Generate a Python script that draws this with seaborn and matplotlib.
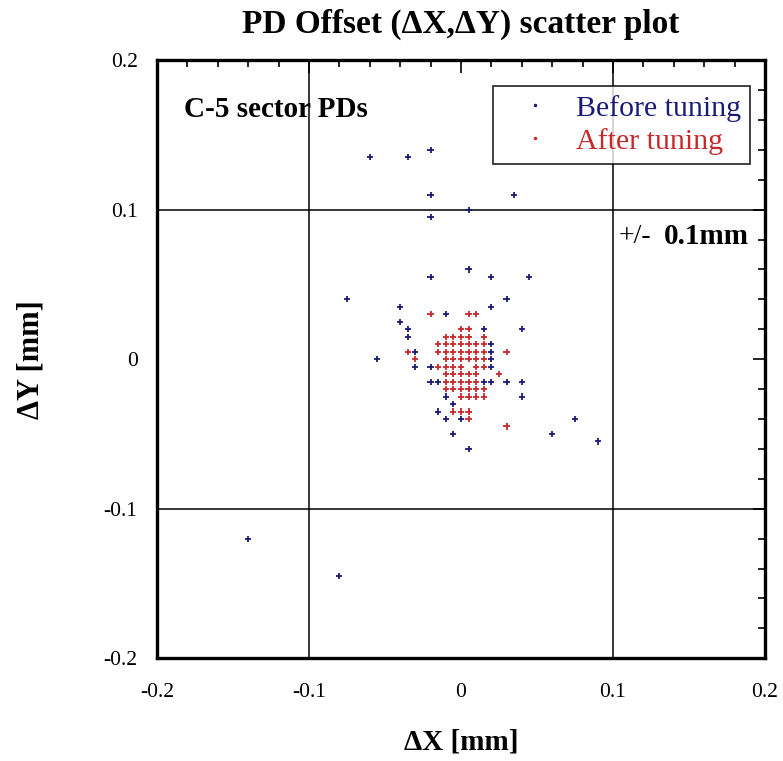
import matplotlib
matplotlib.use("Agg")
import matplotlib.pyplot as plt
import matplotlib.ticker as mticker
from matplotlib.lines import Line2D
import pandas as pd
import seaborn as sns

# PD offsets before tuning (mm)
before_x = [-0.14, -0.08, -0.06, -0.035, -0.02, -0.02, -0.02, 0.005, 0.035,
            -0.02, 0.005, 0.02, 0.045, -0.075, -0.04, 0.02, 0.03, -0.04,
            -0.035, -0.035, 0.04, 0.015, -0.03, -0.055, -0.03, 0.02, 0.02,
            0.02, 0.02, -0.01, 0.04, 0.03, 0.02, 0.04, -0.01, -0.005, -0.015,
            -0.01, 0.0, -0.005, 0.06, 0.005, 0.075, 0.09, -0.02, -0.015,
            -0.02, 0.015]
before_y = [-0.12, -0.145, 0.135, 0.135, 0.14, 0.11, 0.095, 0.1, 0.11,
            0.055, 0.06, 0.055, 0.055, 0.04, 0.035, 0.035, 0.04, 0.025,
            0.02, 0.015, 0.02, 0.02, 0.005, 0.0, -0.005, 0.01, 0.005,
            0.0, -0.005, 0.03, -0.015, -0.015, -0.015, -0.025, -0.025, -0.03, -0.035,
            -0.04, -0.04, -0.05, -0.05, -0.06, -0.04, -0.055, -0.015, -0.015,
            -0.005, -0.015]

# PD offsets after tuning (mm)
after_x = [-0.02, 0.005, 0.01,
           0.0, 0.005,
           -0.01, -0.005, 0.0, 0.005, 0.015,
           -0.015, -0.01, -0.005, 0.0, 0.005, 0.01, 0.015,
           -0.035, -0.015, -0.01, -0.005, 0.0, 0.005, 0.01, 0.015, 0.03,
           -0.03, -0.01, -0.005, 0.0, 0.005, 0.01, 0.015,
           -0.015, -0.01, -0.005, 0.0, 0.01, 0.015,
           -0.01, -0.005, 0.0, 0.005, 0.01, 0.025,
           -0.01, -0.005, 0.0, 0.005, 0.01,
           -0.01, -0.005, 0.0, 0.005, 0.01, 0.015,
           0.0, 0.005, 0.01, 0.015,
           -0.005, 0.0, 0.005,
           0.005, 0.03]
after_y = [0.03, 0.03, 0.03,
           0.02, 0.02,
           0.015, 0.015, 0.015, 0.015, 0.015,
           0.01, 0.01, 0.01, 0.01, 0.01, 0.01, 0.01,
           0.005, 0.005, 0.005, 0.005, 0.005, 0.005, 0.005, 0.005, 0.005,
           0.0, 0.0, 0.0, 0.0, 0.0, 0.0, 0.0,
           -0.005, -0.005, -0.005, -0.005, -0.005, -0.005,
           -0.01, -0.01, -0.01, -0.01, -0.01, -0.01,
           -0.015, -0.015, -0.015, -0.015, -0.015,
           -0.02, -0.02, -0.02, -0.02, -0.02, -0.02,
           -0.025, -0.025, -0.025, -0.025,
           -0.035, -0.035, -0.035,
           -0.04, -0.045]

limit_lines = [-0.1, 0.1]
series_labels = ["Before tuning", "After tuning"]
series_colors = ["#1a1a78", "#c8282a"]

df = pd.DataFrame({
    "dx": before_x + after_x,
    "dy": before_y + after_y,
    "state": [series_labels[0]] * len(before_x) + [series_labels[1]] * len(after_x),
})

sns.set_style("white")
plt.rcParams["font.family"] = ["Liberation Serif", "DejaVu Serif"]
plt.rcParams["text.color"] = "black"
plt.rcParams["axes.labelcolor"] = "black"

fig = plt.figure(figsize=(7.83, 7.61), dpi=100)
ax = fig.add_axes([0.2005, 0.135, 0.7765, 0.786])

sns.scatterplot(data=df, x="dx", y="dy", hue="state", palette=series_colors,
                marker="+", s=20, linewidth=1.3, legend=False, ax=ax, zorder=3)

for v in limit_lines:
    ax.axvline(v, color="black", lw=1.1, zorder=1)
    ax.axhline(v, color="black", lw=1.1, zorder=1)

ax.set_xlim(-0.2, 0.2)
ax.set_ylim(-0.2, 0.2)
ax.xaxis.set_major_locator(mticker.MultipleLocator(0.1))
ax.yaxis.set_major_locator(mticker.MultipleLocator(0.1))
ax.xaxis.set_minor_locator(mticker.MultipleLocator(0.02))
ax.yaxis.set_minor_locator(mticker.MultipleLocator(0.02))
fmt = mticker.FuncFormatter(lambda v, p: "0" if abs(v) < 1e-9 else f"{v:g}")
ax.xaxis.set_major_formatter(fmt)
ax.yaxis.set_major_formatter(fmt)
ax.tick_params(which="both", direction="in", top=True, right=True,
               labelsize=15.5, width=1.2, colors="black")
ax.tick_params(which="major", length=9)
ax.tick_params(axis="x", which="major", pad=18)
ax.tick_params(axis="y", which="major", pad=14)
ax.tick_params(which="minor", length=5)
for sp in ax.spines.values():
    sp.set_linewidth(2.4)
    sp.set_color("black")

ax.set_xlabel("ΔX [mm]", fontsize=21, fontweight="bold", labelpad=19)
ax.set_ylabel("ΔY [mm]", fontsize=22, fontweight="bold", labelpad=42)
fig.suptitle("PD Offset (ΔX,ΔY) scatter plot", fontsize=24, fontweight="bold",
             x=0.589, y=0.988)

ax.text(-0.182, 0.167, "C-5 sector PDs", fontsize=21, fontweight="bold",
        ha="left", va="center")
ax.text(0.125, 0.082, "+/-", fontsize=20, ha="right", va="center")
ax.text(0.1895, 0.082, "0.1mm", fontsize=21, fontweight="bold",
        ha="right", va="center")

handles = [Line2D([], [], marker=".", ms=3, ls="none", color=c) for c in series_colors]
leg = ax.legend(handles, series_labels, loc="upper right",
                bbox_to_anchor=(0.975, 0.957), borderaxespad=0, fontsize=21.5,
                frameon=True, fancybox=False, edgecolor="black",
                handletextpad=0.27, borderpad=0.3, labelspacing=0.2,
                handlelength=2.2, labelcolor=series_colors)
leg.get_frame().set_linewidth(1.3)

fig.savefig("out.png", dpi=100)
